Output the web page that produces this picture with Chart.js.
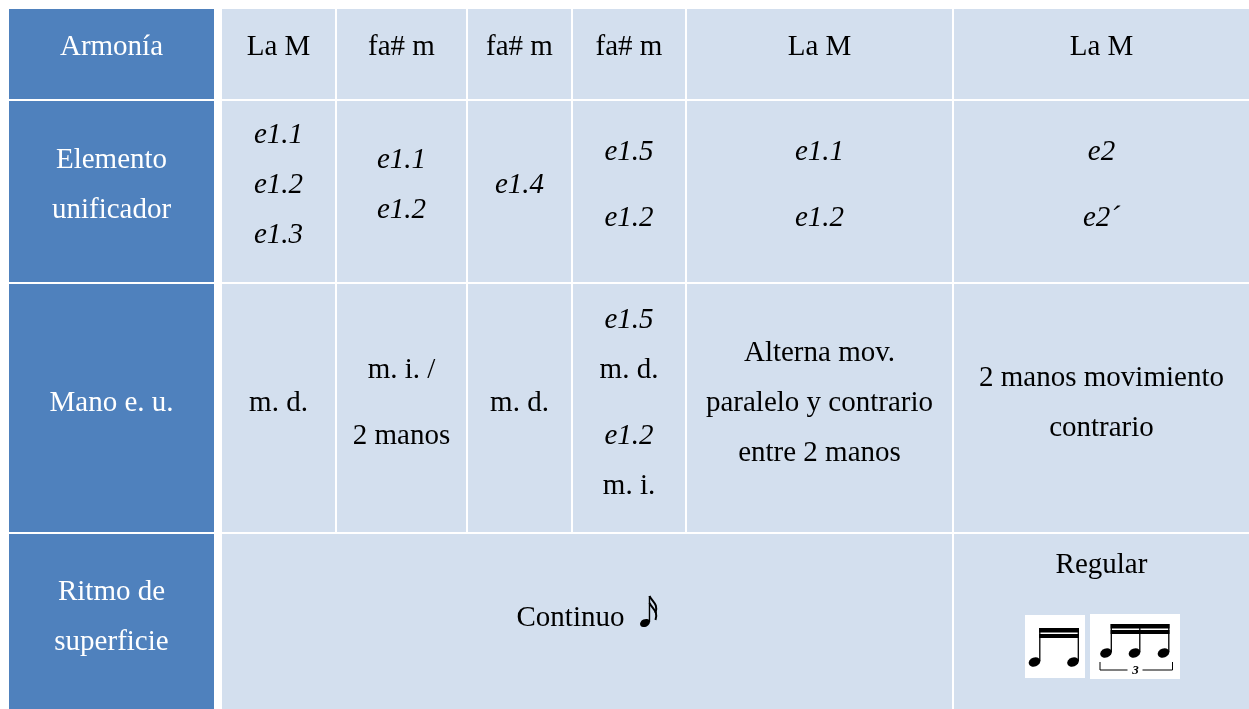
<!DOCTYPE html>
<html>
<head>
<meta charset="utf-8">
<script src="https://cdn.jsdelivr.net/npm/chart.js@4.4.1/dist/chart.umd.min.js"></script>
<style>
  html, body { margin: 0; padding: 0; background: #fff; }
  #wrap { width: 1249px; height: 709px; }
</style>
</head>
<body>
<div id="wrap"><canvas id="tabla"></canvas></div>
<script>
// Table content
const rowLabels = [["Armonía"], ["Elemento", "unificador"], ["Mano e. u."], ["Ritmo de", "superficie"]];
const armonia = ["La M", "fa# m", "fa# m", "fa# m", "La M", "La M"];
// null = extra gap between paragraphs
const elemento = [
    ["e1.1", "e1.2", "e1.3"],
    ["e1.1", "e1.2"],
    ["e1.4"],
    ["e1.5", null, "e1.2"],
    ["e1.1", null, "e1.2"],
    ["e2", null, "e2´"]
];
const mano = [
    ["m. d."],
    ["m. i. /", null, "2 manos"],
    ["m. d."],
    ["e1.5", "m. d.", null, "e1.2", "m. i."],
    ["Alterna mov.", "paralelo y contrario", "entre 2 manos"],
    ["2 manos movimiento", "contrario"]
];
const ritmoTexts = ["Continuo", "Regular"];
const ritmoSpans = [5, 1];

// Layout (pixel units on the linear scales)
const colEdges = [222, 337, 468, 573, 687, 954, 1251];
const rowEdges = [9, 101, 284, 534, 718];
const rowOffsets = [-7, -6, -5, -8];
const headerEdges = [9, 216];
const GRID = 2;
const LINE_H = 50;
const PARA_GAP = 16;

const HEADER_BG = "#4f81bd";
const CELL_BG = "#d3dfee";
const FONT = "29px 'Liberation Serif', 'Times New Roman', serif";
const FONT_IT = "italic 29px 'Liberation Serif', 'Times New Roman', serif";

function isItalic(s) {
    return /^e\d/.test(s);
}

function drawLines(ctx, lines, cx, cy, color) {
    const ys = [];
    let y = 0;
    lines.forEach(l => {
        if (l === null) { y += PARA_GAP; return; }
        if (ys.length) y += LINE_H;
        ys.push(y);
    });
    const shift = cy - (ys[0] + ys[ys.length - 1]) / 2;
    ctx.fillStyle = color;
    ctx.textAlign = "center";
    ctx.textBaseline = "middle";
    lines.filter(l => l !== null).forEach((l, i) => {
        ctx.font = isItalic(l) ? FONT_IT : FONT;
        ctx.fillText(l, cx, ys[i] + shift);
    });
}

// sixteenth note glyph
function drawSixteenth(ctx, x, y) {
    ctx.save();
    ctx.fillStyle = "#000";
    ctx.strokeStyle = "#000";
    ctx.beginPath();
    ctx.ellipse(x + 4.5, y + 27, 5.2, 3.8, -0.45, 0, Math.PI * 2);
    ctx.fill();
    ctx.lineWidth = 1.4;
    ctx.beginPath();
    ctx.moveTo(x + 9, y + 26);
    ctx.lineTo(x + 9, y);
    ctx.stroke();
    ctx.lineWidth = 2;
    [0, 7].forEach(d => {
        ctx.beginPath();
        ctx.moveTo(x + 9, y + d);
        ctx.bezierCurveTo(x + 12, y + d + 6, x + 18, y + d + 8, x + 15, y + d + 17);
        ctx.stroke();
    });
    ctx.restore();
}

function drawBeamed(ctx, heads, headY, stemTop, box, triplet) {
    ctx.save();
    ctx.fillStyle = "#fff";
    ctx.fillRect(box[0], box[1], box[2], box[3]);
    ctx.fillStyle = "#000";
    ctx.strokeStyle = "#000";
    heads.forEach(hx => {
        ctx.beginPath();
        ctx.ellipse(hx, headY, 6, 4.4, -0.35, 0, Math.PI * 2);
        ctx.fill();
        ctx.lineWidth = 1.3;
        ctx.beginPath();
        ctx.moveTo(hx + 5.3, headY - 1);
        ctx.lineTo(hx + 5.3, stemTop);
        ctx.stroke();
    });
    const x0 = heads[0] + 4.6, x1 = heads[heads.length - 1] + 6;
    ctx.fillRect(x0, stemTop, x1 - x0, 4.5);
    ctx.fillRect(x0, stemTop + 6, x1 - x0, 4);
    if (triplet) {
        const by = headY + 17;
        ctx.lineWidth = 1;
        ctx.beginPath();
        ctx.moveTo(heads[0] - 6, by - 8);
        ctx.lineTo(heads[0] - 6, by);
        ctx.lineTo(heads[1] - 7, by);
        ctx.moveTo(heads[1] + 8, by);
        ctx.lineTo(heads[2] + 9, by);
        ctx.lineTo(heads[2] + 9, by - 8);
        ctx.stroke();
        ctx.font = "bold italic 13px 'Liberation Serif', serif";
        ctx.textAlign = "center";
        ctx.textBaseline = "middle";
        ctx.fillText("3", heads[1] + 1, by + 1);
    }
    ctx.restore();
}

const tablePlugin = {
    id: "tabla",
    afterDraw(chart) {
        const { ctx, scales: { x, y } } = chart;
        const px = v => x.getPixelForValue(v);
        const py = v => y.getPixelForValue(v);

        // header column
        rowLabels.forEach((lab, r) => {
            const x0 = px(headerEdges[0]), x1 = px(headerEdges[1] - GRID);
            const y0 = py(rowEdges[r]), y1 = py(rowEdges[r + 1] - GRID);
            ctx.fillStyle = HEADER_BG;
            ctx.fillRect(x0, y0, x1 - x0, y1 - y0);
            drawLines(ctx, lab, (x0 + x1) / 2, (y0 + y1) / 2 + rowOffsets[r], "#fff");
        });

        // body rows 0..2
        [armonia, elemento, mano].forEach((row, r) => {
            row.forEach((val, c) => {
                const x0 = px(colEdges[c]), x1 = px(colEdges[c + 1] - GRID);
                const y0 = py(rowEdges[r]), y1 = py(rowEdges[r + 1] - GRID);
                ctx.fillStyle = CELL_BG;
                ctx.fillRect(x0, y0, x1 - x0, y1 - y0);
                drawLines(ctx, Array.isArray(val) ? val : [val], (x0 + x1) / 2, (y0 + y1) / 2 + rowOffsets[r], "#000");
            });
        });

        // ritmo row with spanned cells
        let c = 0;
        ritmoTexts.forEach((txt, i) => {
            const span = ritmoSpans[i];
            const x0 = px(colEdges[c]), x1 = px(colEdges[c + span] - GRID);
            const y0 = py(rowEdges[3]), y1 = py(rowEdges[4] - GRID);
            ctx.fillStyle = CELL_BG;
            ctx.fillRect(x0, y0, x1 - x0, y1 - y0);
            const cx = (x0 + x1) / 2, cy = (y0 + y1) / 2 + rowOffsets[3];
            ctx.font = FONT;
            if (i === 0) {
                const w = ctx.measureText(txt).width;
                const total = w + 16 + 17;
                ctx.fillStyle = "#000";
                ctx.textAlign = "left";
                ctx.textBaseline = "middle";
                ctx.fillText(txt, cx - total / 2, cy + 1);
                drawSixteenth(ctx, cx - total / 2 + w + 16, cy - 21);
            } else {
                drawLines(ctx, [txt], cx, cy - 52, "#000");
                drawBeamed(ctx, [cx - 67, cx - 28.5], cy + 45, cy + 11, [cx - 76.5, cy - 2, 60, 63], false);
                drawBeamed(ctx, [cx + 4.5, cx + 33, cx + 62], cy + 36, cy + 7, [cx - 11.5, cy - 3, 90, 65], true);
            }
            c += span;
        });
    }
};

new Chart(document.getElementById("tabla"), {
    type: "scatter",
    data: { datasets: [{ data: [] }] },
    options: {
        responsive: true,
        maintainAspectRatio: false,
        animation: false,
        layout: { padding: 0 },
        plugins: { legend: { display: false }, tooltip: { enabled: false } },
        scales: {
            x: { type: "linear", min: 0, max: 1249, display: false },
            y: { type: "linear", min: 0, max: 709, reverse: true, display: false }
        }
    },
    plugins: [tablePlugin]
});
</script>
</body>
</html>
